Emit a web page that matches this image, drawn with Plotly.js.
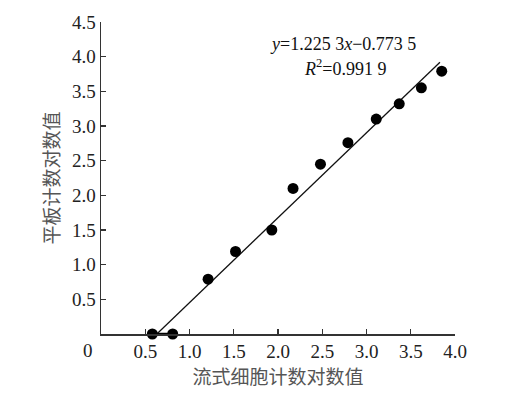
<!DOCTYPE html>
<html><head><meta charset="utf-8">
<script src="https://cdn.plot.ly/plotly-3.0.1.min.js"></script>
<style>html,body{margin:0;padding:0;background:#fff}#chart{width:509px;height:394px}</style>
</head><body><div id="chart"></div>
<script>
// Data
const flowLog = [0.58, 0.81, 1.21, 1.52, 1.93, 2.17, 2.48, 2.79, 3.11, 3.37, 3.62, 3.85];
const plateLog = [0.0, 0.0, 0.79, 1.19, 1.50, 2.10, 2.45, 2.76, 3.10, 3.32, 3.55, 3.79];
// fitted line endpoints (y = 1.2253x - 0.7735)
const fitX = [0.631, 3.83];
const fitY = [0.0, 3.92];
// short segment joining the two zero points
const segX = [0.58, 0.81];
const segY = [0.0, 0.0];
const xTickVals = [0.5, 1.0, 1.5, 2.0, 2.5, 3.0, 3.5, 4.0];
const xTickText = ["0.5", "1.0", "1.5", "2.0", "2.5", "3.0", "3.5", "4.0"];
const yTickVals = [0.5, 1.0, 1.5, 2.0, 2.5, 3.0, 3.5, 4.0, 4.5];
const yTickText = ["0.5", "1.0", "1.5", "2.0", "2.5", "3.0", "3.5", "4.0", "4.5"];

const serif = "'Liberation Serif', 'Times New Roman', serif";
const cjk = "'Noto Sans CJK SC', sans-serif";

const traces = [
  {x: fitX, y: fitY, mode: "lines", line: {color: "#111", width: 1.3}, hoverinfo: "skip", showlegend: false},
  {x: segX, y: segY, mode: "lines", line: {color: "#000", width: 2.5}, hoverinfo: "skip", showlegend: false},
  {x: flowLog, y: plateLog, mode: "markers", marker: {color: "#000", size: 11}, showlegend: false, cliponaxis: false}
];

const layout = {
  width: 509, height: 394,
  margin: {l: 101, r: 54, t: 22, b: 60},
  paper_bgcolor: "#fff", plot_bgcolor: "#fff",
  showlegend: false,
  xaxis: {
    range: [0, 4], tickvals: xTickVals, ticktext: xTickText,
    showline: true, linecolor: "#333", linewidth: 1.5,
    ticks: "inside", ticklen: 5, tickcolor: "#333", tickwidth: 1.2,
    showgrid: false, zeroline: false,
    tickfont: {family: serif, size: 19, color: "#222"},
    title: {text: "流式细胞计数对数值", font: {family: cjk, size: 19, color: "#555"}, standoff: 5}
  },
  yaxis: {
    range: [0, 4.5], tickvals: yTickVals, ticktext: yTickText,
    showline: true, linecolor: "#333", linewidth: 1.5,
    ticks: "inside", ticklen: 5, tickcolor: "#333", tickwidth: 1.2,
    showgrid: false, zeroline: false,
    tickfont: {family: serif, size: 19, color: "#222"},
    title: {text: "平板计数对数值", font: {family: cjk, size: 19, color: "#555"}, standoff: 7}
  },
  annotations: [
    {xref: "x", yref: "y", x: 0, y: 0, xshift: -13, yshift: -16, text: "0", showarrow: false,
     font: {family: serif, size: 19, color: "#222"}, xanchor: "center", yanchor: "middle"},
    {xref: "paper", yref: "paper", x: (343 - 101) / 354, y: (394 - 60 - 44) / 312, text: "<i>y</i>=1.225 3<i>x</i>−0.773 5", showarrow: false,
     font: {family: serif, size: 18, color: "#111"}, xanchor: "center", yanchor: "middle"},
    {xref: "paper", yref: "paper", x: (345 - 101) / 354, y: (394 - 60 - 67) / 312, text: "<i>R</i><sup>2</sup>=0.991 9", showarrow: false,
     font: {family: serif, size: 18, color: "#111"}, xanchor: "center", yanchor: "middle"}
  ]
};

Plotly.newPlot("chart", traces, layout, {displayModeBar: false, staticPlot: true});
</script></body></html>
